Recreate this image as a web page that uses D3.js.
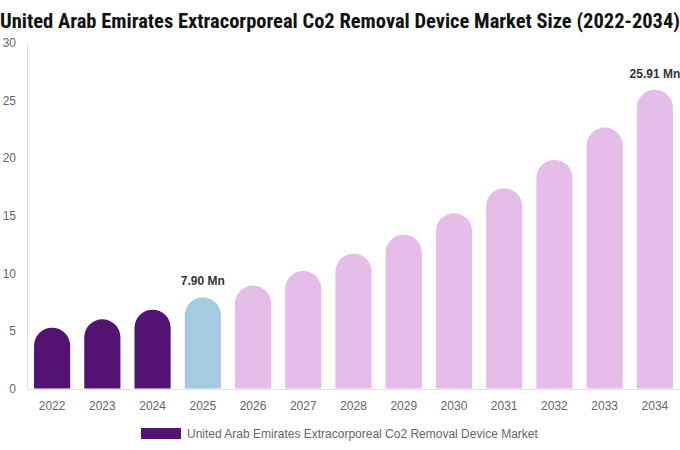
<!DOCTYPE html>
<html><head><meta charset="utf-8">
<script src="https://cdn.jsdelivr.net/npm/d3@7"></script>
<style>body{margin:0;background:#fff;}svg{display:block;}</style>
</head><body>
<svg id="c" width="680" height="450"></svg>
<script>
const years = ["2022","2023","2024","2025","2026","2027","2028","2029","2030","2031","2032","2033","2034"];
const values = [5.27, 6.0, 6.83, 7.90, 8.93, 10.19, 11.69, 13.34, 15.19, 17.36, 19.82, 22.62, 25.91];
const yTicks = [0, 5, 10, 15, 20, 25, 30];
const labeled = {"2025": "7.90 Mn", "2034": "25.91 Mn"};
const colorOf = y => (+y <= 2024 ? "#541370" : (+y === 2025 ? "#A4CBDF" : "#E6BCE8"));
const title = "United Arab Emirates Extracorporeal Co2 Removal Device Market Size (2022-2034)";
const legendLabel = "United Arab Emirates Extracorporeal Co2 Removal Device Market";

const svg = d3.select("#c");
const x = d3.scaleBand().domain(years).range([27, 680]).paddingInner(0.28).paddingOuter(0.14);
const y = d3.scaleLinear().domain([0, 30]).range([388.5, 42.5]);

// title
svg.append("text").attr("x", 340).attr("y", 28).attr("text-anchor", "middle")
  .style("font-family", "'Liberation Sans Narrow','Roboto Condensed','Liberation Sans',Arial,sans-serif")
  .style("font-weight", "bold").style("font-size", "20px").attr("fill", "#111")
  .attr("textLength", 680).attr("lengthAdjust", "spacingAndGlyphs").text(title);

// y axis
const yAxis = svg.append("g").attr("transform", "translate(27,0)")
  .call(d3.axisLeft(y).tickValues(yTicks).tickSize(0).tickPadding(11));
yAxis.select(".domain").attr("stroke", "#e0e0e0");
yAxis.selectAll("text").style("font-family", "'Liberation Sans',Arial,sans-serif").style("font-size", "12px").attr("fill", "#666");

// x axis
const xAxis = svg.append("g").attr("transform", "translate(0,389)")
  .call(d3.axisBottom(x).tickSize(0).tickPadding(12));
xAxis.select(".domain").attr("stroke", "#e0e0e0");
xAxis.selectAll("text").style("font-family", "'Liberation Sans',Arial,sans-serif").style("font-size", "12px").attr("fill", "#666");

// bars with rounded tops
const bw = x.bandwidth();
const r = bw / 2;
svg.append("g").selectAll("path").data(years).join("path")
  .attr("fill", d => colorOf(d))
  .attr("d", (d, i) => {
    const x0 = x(d), x1 = x0 + bw, yb = y(0), yt = y(values[i]);
    const rr = Math.min(r, yb - yt);
    return `M${x0},${yb} L${x0},${yt + rr} A${r},${rr} 0 0 1 ${x1},${yt + rr} L${x1},${yb} Z`;
  });

// value labels
svg.append("g").selectAll("text").data(years.filter(d => labeled[d])).join("text")
  .attr("x", d => x(d) + bw / 2)
  .attr("y", d => y(values[years.indexOf(d)]) - 12)
  .attr("text-anchor", "middle")
  .style("font-family", "'Liberation Sans',Arial,sans-serif").style("font-size", "12px").style("font-weight", "bold")
  .attr("fill", "#333").text(d => labeled[d]);

// legend
svg.append("rect").attr("x", 141).attr("y", 428).attr("width", 40).attr("height", 11).attr("fill", "#541370");
svg.append("text").attr("x", 187).attr("y", 437.5)
  .style("font-family", "'Liberation Sans',Arial,sans-serif").style("font-size", "12px")
  .attr("fill", "#666").text(legendLabel);
</script>
</body></html>
